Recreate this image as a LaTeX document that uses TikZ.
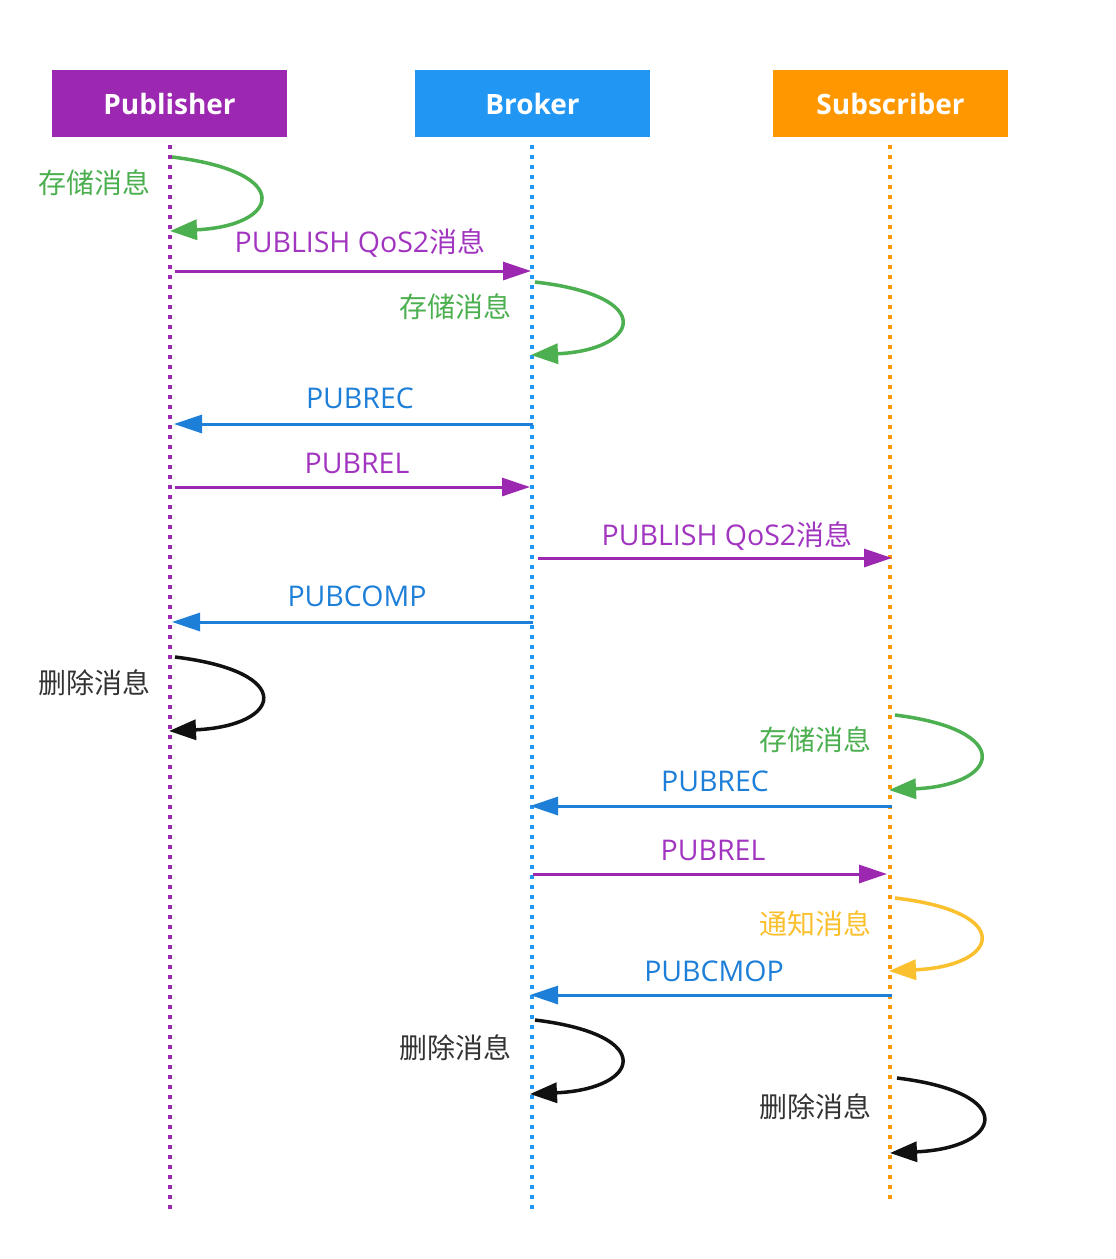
\documentclass[tikz,border=0pt]{standalone}
\usepackage{fontspec}
\setmainfont{Noto Sans CJK SC}
\newfontfamily\lat{Open Sans}
\usetikzlibrary{arrows.meta}
\definecolor{cpub}{HTML}{9C27B0}
\definecolor{cbrk}{HTML}{2196F3}
\definecolor{csub}{HTML}{FF9800}
\definecolor{cblue}{HTML}{1E7FD8}
\definecolor{cpurp}{HTML}{A235C0}
\definecolor{cgreen}{HTML}{4CAF50}
\definecolor{cyel}{HTML}{FBC02D}
\definecolor{cblk}{HTML}{111111}
\tikzset{
  hdr/.style={minimum width=235pt,minimum height=67pt,inner sep=0pt,text=white,font=\lat\bfseries\fontsize{28}{32}\selectfont},
  life/.style={line width=3.5pt,dash pattern=on 3.5pt off 6.5pt},
  msg/.style={line width=3pt,-{Triangle[length=28pt,width=18pt]}},
  loopa/.style={line width=3.5pt,-{Triangle[length=27pt,width=20pt]}},
  lbl/.style={inner sep=0pt,font=\fontsize{28}{30}\selectfont},
  llbl/.style={inner sep=0pt,font=\lat\fontsize{28.5}{30}\selectfont},
}
\begin{document}
\begin{tikzpicture}[x=1pt,y=-1pt]
\useasboundingbox[fill=white] (0,0) rectangle (1116,1259);
% headers
\node[hdr,fill=cpub] (P) at (169.5,103.5) {Publisher};
\node[hdr,fill=cbrk] (B) at (532.5,103.5) {Broker};
\node[hdr,fill=csub] (S) at (890.5,103.5) {Subscriber};
% lifelines
\coordinate (Pe) at (170,1212);
\coordinate (Be) at (532,1212);
\coordinate (Se) at (890,1200);
\draw[life,cpub] (P.south -| Pe) ++(0,8) -- (Pe);
\draw[life,cbrk] (B.south -| Be) ++(0,8) -- (Be);
\draw[life,csub] (S.south -| Se) ++(0,8) -- (Se);
% 1 publisher store
\coordinate (l1a) at (172,157); \coordinate (l1b) at (170,231);
\draw[loopa,cgreen] (l1a) .. controls (296,172) and (280,226) .. (l1b);
\node[lbl,text=cgreen] (t1) at (94,183) {存储消息};
% publish
\coordinate (m1a) at (175,271); \coordinate (m1b) at (531,271);
\draw[msg,cpub] (m1a) -- (m1b);
\node[llbl,text=cpurp,anchor=base] (t2) at (360,252) {PUBLISH QoS2{\rmfamily\fontsize{28}{30}\selectfont 消息}};
% broker store
\coordinate (l2a) at (535,282); \coordinate (l2b) at (531,355);
\draw[loopa,cgreen] (l2a) .. controls (658,296) and (640,350) .. (l2b);
\node[lbl,text=cgreen] (t3) at (455,307) {存储消息};
% pubrec
\coordinate (m2a) at (533,424); \coordinate (m2b) at (174,424);
\draw[msg,cblue] (m2a) -- (m2b);
\node[llbl,text=cblue,anchor=base] (t4) at (360,408) {PUBREC};
% pubrel
\coordinate (m3a) at (175,487); \coordinate (m3b) at (530,487);
\draw[msg,cpub] (m3a) -- (m3b);
\node[llbl,text=cpurp,anchor=base] (t5) at (357,473) {PUBREL};
% publish to sub
\coordinate (m4a) at (538,558); \coordinate (m4b) at (892,558);
\draw[msg,cpub] (m4a) -- (m4b);
\node[llbl,text=cpurp,anchor=base] (t6) at (727,545) {PUBLISH QoS2{\rmfamily\fontsize{28}{30}\selectfont 消息}};
% pubcomp
\coordinate (m5a) at (533,622); \coordinate (m5b) at (172,622);
\draw[msg,cblue] (m5a) -- (m5b);
\node[llbl,text=cblue,anchor=base] (t7) at (357,606) {PUBCOMP};
% publisher delete
\coordinate (l3a) at (175,657); \coordinate (l3b) at (169,731);
\draw[loopa,cblk] (l3a) .. controls (298,672) and (282,726) .. (l3b);
\node[lbl,text=black!80] (t8) at (94,683) {删除消息};
% subscriber store
\coordinate (l4a) at (895,715); \coordinate (l4b) at (889,790);
\draw[loopa,cgreen] (l4a) .. controls (1016,730) and (1000,785) .. (l4b);
\node[lbl,text=cgreen] (t9) at (815,740) {存储消息};
% pubrec 2
\coordinate (m6a) at (892,806); \coordinate (m6b) at (530,806);
\draw[msg,cblue] (m6a) -- (m6b);
\node[llbl,text=cblue,anchor=base] (t10) at (715,791) {PUBREC};
% pubrel 2
\coordinate (m7a) at (533,874); \coordinate (m7b) at (887,874);
\draw[msg,cpub] (m7a) -- (m7b);
\node[llbl,text=cpurp,anchor=base] (t11) at (713,860) {PUBREL};
% notify
\coordinate (l5a) at (895,898); \coordinate (l5b) at (889,971);
\draw[loopa,cyel] (l5a) .. controls (1016,912) and (1000,966) .. (l5b);
\node[lbl,text=cyel] (t12) at (815,924) {通知消息};
% pubcmop
\coordinate (m8a) at (892,995); \coordinate (m8b) at (530,995);
\draw[msg,cblue] (m8a) -- (m8b);
\node[llbl,text=cblue,anchor=base] (t13) at (714,981) {PUBCMOP};
% broker delete
\coordinate (l6a) at (535,1020); \coordinate (l6b) at (530,1094);
\draw[loopa,cblk] (l6a) .. controls (658,1035) and (640,1089) .. (l6b);
\node[lbl,text=black!80] (t14) at (455,1048) {删除消息};
% subscriber delete
\coordinate (l7a) at (897,1078); \coordinate (l7b) at (890,1153);
\draw[loopa,cblk] (l7a) .. controls (1020,1093) and (1002,1148) .. (l7b);
\node[lbl,text=black!80] (t15) at (815,1107) {删除消息};
\end{tikzpicture}
\end{document}
